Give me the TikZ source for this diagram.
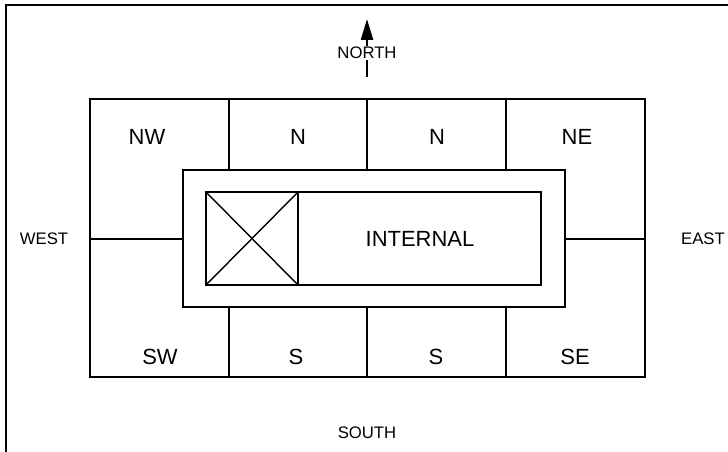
\documentclass[tikz,border=0pt]{standalone}
\usepackage{fontspec}
\setmainfont{Liberation Sans}
\usetikzlibrary{arrows.meta,positioning}

\begin{document}
\begin{tikzpicture}[
    x=0.02cm, y=-0.02cm,
    wall/.style={draw=black, line width=0.8pt},
    cell/.style={font=\fontsize{12.5}{14}\selectfont, inner sep=0pt},
    compass/.style={font=\fontsize{9.5}{11}\selectfont, inner sep=0pt},
    arr/.style={-{Triangle[length=0.42cm, width=0.24cm]}, line width=1.4pt}
]
    \useasboundingbox (0,0) rectangle (728,452);

    % Frame (only top and left show)
    \draw[wall] (6,460) -- (6,5) -- (740,5);

    % Outer block and cell dividers
    \draw[wall] (90,99) rectangle (645,377);
    \foreach \x in {229,367,506} {
        \draw[wall] (\x,99) -- (\x,170);
        \draw[wall] (\x,307) -- (\x,377);
    }

    % Middle frame and internal box
    \draw[wall] (183,170) rectangle (565,307);
    \draw[wall] (206,192) rectangle (541,285);
    \draw[wall] (206,192) rectangle (298,285);
    \draw[wall] (206,192) -- (298,285);
    \draw[wall] (206,285) -- (298,192);

    % Side dividers
    \draw[wall] (90,239) -- (183,239);
    \draw[wall] (565,239) -- (645,239);

    % Cell labels
    \node[cell] (nw)  at (147,137) {NW};
    \node[cell] (n1)  at (298,137) {N};
    \node[cell] (n2)  at (437,137) {N};
    \node[cell] (ne)  at (577,137) {NE};
    \node[cell] (sw)  at (160,357) {SW};
    \node[cell] (s1)  at (296,357) {S};
    \node[cell] (s2)  at (436,357) {S};
    \node[cell] (se)  at (575,357) {SE};
    \node[cell] (internal) at (420,239) {INTERNAL};

    % Compass labels
    \node[compass] (west)  at (44,239)  {WEST};
    \node[compass] (east)  at (703,239) {EAST};
    \node[compass] (south) at (367,433) {SOUTH};
    \coordinate (tail) at (367,77);
    \coordinate (tip)  at (367,19);
    \draw[arr] (tail) -- (tip);
    \node[compass, fill=white, inner sep=0.5pt] (north) at (367,53) {NORTH};
    \draw[line width=1.4pt] (tail) -- ([yshift=-1pt]north.south);

\end{tikzpicture}
\end{document}
